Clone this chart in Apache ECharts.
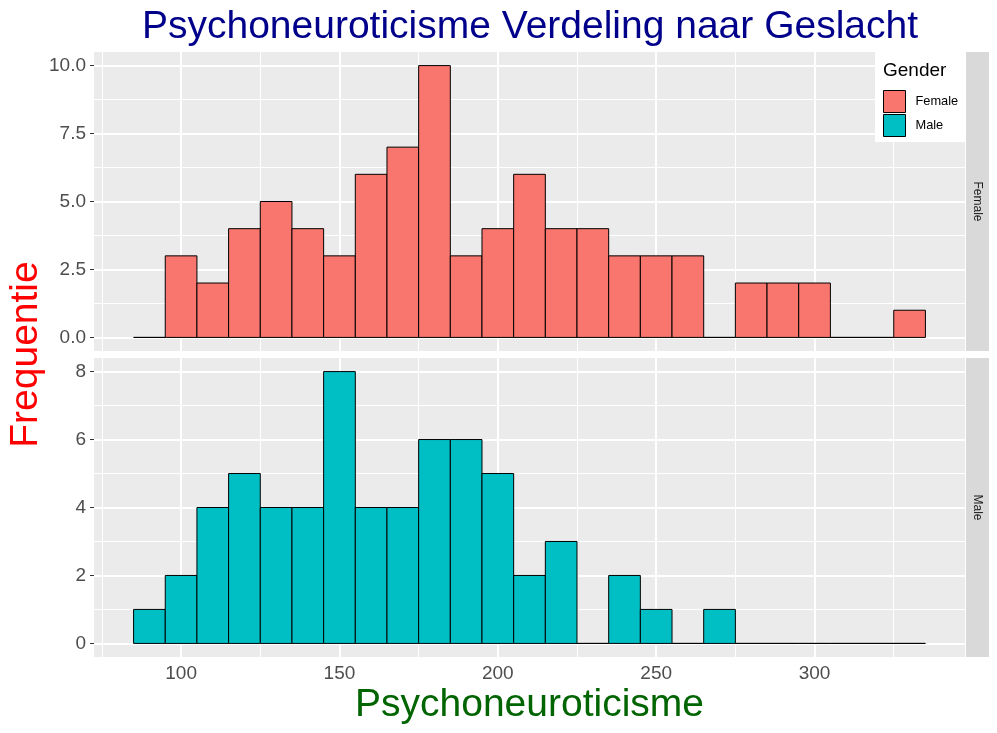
<!DOCTYPE html>
<html>
<head>
<meta charset="utf-8">
<title>Psychoneuroticisme</title>
<script src="https://cdn.jsdelivr.net/npm/echarts@6/dist/echarts.min.js"></script>
<style>
    html, body { margin: 0; padding: 0; background: #fff; }
    #echarts { width: 997px; height: 733px; }
</style>
</head>
<body>
<div id="echarts"></div>
<script>
// bin edges (binwidth 10)
var binEdges = [85, 95, 105, 115, 125, 135, 145, 155, 165, 175, 185, 195, 205,
                215, 225, 235, 245, 255, 265, 275, 285, 295, 305, 315, 325, 335];
var femaleCounts = [0, 3, 2, 4, 5, 4, 3, 6, 7, 10, 3, 4, 6, 4, 4, 3, 3, 3, 0, 2, 2, 2, 0, 0, 1];
var maleCounts = [1, 2, 4, 5, 4, 4, 8, 4, 4, 6, 6, 5, 2, 3, 0, 2, 1, 0, 1, 0, 0, 0, 0, 0, 0];

var xTicks = [100, 150, 200, 250, 300];
var xMinor = [75, 125, 175, 225, 275, 325];
var femaleTicks = [0, 2.5, 5, 7.5, 10];
var femaleMinor = [1.25, 3.75, 6.25, 8.75];
var maleTicks = [0, 2, 4, 6, 8];
var maleMinor = [1, 3, 5, 7];

var FONT = 'Liberation Sans, Arial, sans-serif';
var femaleColor = '#F8766D';
var maleColor = '#00BFC4';

function histData(counts) {
    var out = [];
    for (var i = 0; i < counts.length; i++) {
        out.push([binEdges[i], binEdges[i + 1], counts[i]]);
    }
    return out;
}

function renderBin(params, api) {
    var p0 = api.coord([api.value(0), 0]);
    var p1 = api.coord([api.value(1), api.value(2)]);
    return {
        type: 'rect',
        shape: { x: p0[0], y: p1[1], width: p1[0] - p0[0], height: p0[1] - p1[1] },
        style: api.style()
    };
}

// white grid lines of a panel, drawn through the axes
function gridLines(xIdx, yIdx, yMajor, yMinor) {
    var lines = [];
    var i;
    for (i = 0; i < yMinor.length; i++) lines.push({ yAxis: yMinor[i], lineStyle: { width: 1 } });
    for (i = 0; i < xMinor.length; i++) lines.push({ xAxis: xMinor[i], lineStyle: { width: 1 } });
    for (i = 0; i < yMajor.length; i++) lines.push({ yAxis: yMajor[i], lineStyle: { width: 2 } });
    for (i = 0; i < xTicks.length; i++) lines.push({ xAxis: xTicks[i], lineStyle: { width: 2 } });
    return {
        type: 'line',
        xAxisIndex: xIdx,
        yAxisIndex: yIdx,
        data: [],
        z: 1,
        silent: true,
        markLine: {
            silent: true,
            symbol: ['none', 'none'],
            label: { show: false },
            lineStyle: { color: '#ffffff', type: 'solid' },
            emphasis: { disabled: true },
            animation: false,
            data: lines
        }
    };
}

function xAxisOpt(gridIndex, showLabels) {
    return {
        type: 'value',
        gridIndex: gridIndex,
        min: 72.5,
        max: 347.5,
        axisLine: { show: false },
        splitLine: { show: false },
        axisTick: { show: showLabels, length: 4, customValues: xTicks, lineStyle: { color: '#333333', width: 1 } },
        axisLabel: { show: showLabels, customValues: xTicks, margin: 7, color: '#4D4D4D', fontSize: 19, fontFamily: FONT },
        name: showLabels ? 'Psychoneuroticisme' : '',
        nameLocation: 'middle',
        nameGap: 29,
        nameTextStyle: { color: '#006400', fontSize: 39, fontFamily: FONT }
    };
}

function yAxisOpt(gridIndex, min, max, ticks, fmt) {
    return {
        type: 'value',
        gridIndex: gridIndex,
        min: min,
        max: max,
        axisLine: { show: false },
        splitLine: { show: false },
        axisTick: { show: true, length: 4, customValues: ticks, lineStyle: { color: '#333333', width: 1 } },
        axisLabel: { customValues: ticks, margin: 8, color: '#4D4D4D', fontSize: 19, fontFamily: FONT, formatter: fmt }
    };
}

var myChart = echarts.init(document.getElementById('echarts'), null, { renderer: 'canvas' });
var option = {
    animation: false,
    backgroundColor: '#ffffff',
    title: {
        text: 'Psychoneuroticisme Verdeling naar Geslacht',
        left: 530,
        top: 8,
        padding: 0,
        textAlign: 'center',
        textStyle: { color: '#00008B', fontSize: 39, fontWeight: 'normal', fontFamily: FONT }
    },
    grid: [
        { left: 94, width: 871, top: 52, height: 299, show: true, backgroundColor: '#EBEBEB', borderWidth: 0 },
        { left: 94, width: 871, top: 358, height: 299, show: true, backgroundColor: '#EBEBEB', borderWidth: 0 }
    ],
    xAxis: [xAxisOpt(0, false), xAxisOpt(1, true)],
    yAxis: [
        yAxisOpt(0, -0.5, 10.5, femaleTicks, function (v) { return v.toFixed(1); }),
        yAxisOpt(1, -0.4, 8.4, maleTicks, function (v) { return String(v); })
    ],
    legend: {
        data: ['Female', 'Male'],
        orient: 'vertical',
        left: 883,
        top: 90,
        padding: 0,
        z: 100,
        itemWidth: 22,
        itemHeight: 22,
        itemGap: 1,
        icon: 'rect',
        selectedMode: false,
        itemStyle: { borderColor: '#000000', borderWidth: 1 },
        textStyle: { color: '#000000', fontSize: 12.8, fontFamily: FONT, padding: [0, 0, 0, 5] }
    },
    graphic: [
        // legend box + title
        { type: 'rect', left: 875, top: 52, z: 50, shape: { width: 91, height: 90 }, style: { fill: '#ffffff' } },
        { type: 'text', x: 883, y: 71, z: 51, style: { text: 'Gender', fill: '#000000', font: '19px ' + FONT, verticalAlign: 'middle' } },
        // facet strips
        { type: 'rect', x: 966, y: 52, shape: { width: 23, height: 299 }, style: { fill: '#D9D9D9' } },
        { type: 'rect', x: 966, y: 358, shape: { width: 23, height: 299 }, style: { fill: '#D9D9D9' } },
        { type: 'text', x: 977.5, y: 201.5, rotation: -Math.PI / 2, style: { text: 'Female', fill: '#1A1A1A', font: '12px ' + FONT, align: 'center', verticalAlign: 'middle' } },
        { type: 'text', x: 977.5, y: 507.5, rotation: -Math.PI / 2, style: { text: 'Male', fill: '#1A1A1A', font: '12px ' + FONT, align: 'center', verticalAlign: 'middle' } },
        // y axis title
        { type: 'text', x: 26.5, y: 354.5, rotation: Math.PI / 2, style: { text: 'Frequentie', fill: '#FF0000', font: '39px ' + FONT, align: 'center', verticalAlign: 'middle' } }
    ],
    series: [
        gridLines(0, 0, femaleTicks, femaleMinor),
        gridLines(1, 1, maleTicks, maleMinor),
        {
            name: 'Female',
            type: 'custom',
            xAxisIndex: 0,
            yAxisIndex: 0,
            z: 5,
            renderItem: renderBin,
            itemStyle: { color: femaleColor, borderColor: '#000000', borderWidth: 1 },
            encode: { x: [0, 1], y: 2 },
            data: histData(femaleCounts)
        },
        {
            name: 'Male',
            type: 'custom',
            xAxisIndex: 1,
            yAxisIndex: 1,
            z: 5,
            renderItem: renderBin,
            itemStyle: { color: maleColor, borderColor: '#000000', borderWidth: 1 },
            encode: { x: [0, 1], y: 2 },
            data: histData(maleCounts)
        }
    ]
};
myChart.setOption(option);
</script>
</body>
</html>
